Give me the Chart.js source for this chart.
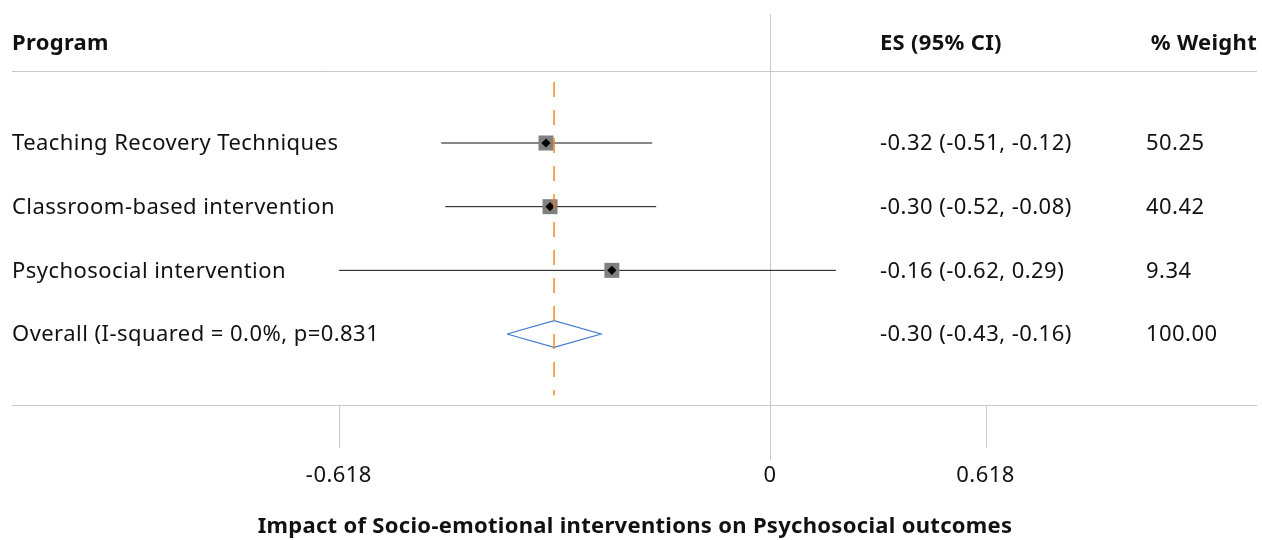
<!DOCTYPE html>
<html>
<head>
<meta charset="utf-8">
<script src="https://cdn.jsdelivr.net/npm/chart.js@4/dist/chart.umd.min.js"></script>
<style>
  html, body { margin: 0; padding: 0; background: #fff; }
  #wrap { width: 1262px; height: 540px; }
</style>
</head>
<body>
<div id="wrap"><canvas id="forest"></canvas></div>
<script>
// table text
let programs = ["Teaching Recovery Techniques", "Classroom-based intervention", "Psychosocial intervention"];
let esText = ["-0.32 (-0.51, -0.12)", "-0.30 (-0.52, -0.08)", "-0.16 (-0.62, 0.29)"];
let weights = ["50.25", "40.42", "9.34"];
let overallLabel = "Overall (I-squared = 0.0%, p=0.831";
let overallText = "-0.30 (-0.43, -0.16)";
let overallWeight = "100.00";

// plotted positions, axis is ln(1 + ES)
let esPlot = [-0.500, -0.491, -0.353];
let loPlot = [-0.734, -0.725, -0.962];
let hiPlot = [-0.263, -0.254, 0.147];
let overallEs = -0.482;
let overallLo = -0.587;
let overallHi = -0.377;

let tickLabels = [-0.618, 0, 0.618];

let font = "'Noto Sans', Lato, sans-serif";
let rows = programs.map((p, i) => i + 1);
let overallRow = programs.length + 1;

let datasets = [];

// orange reference line at overall ES
datasets.push({
    type: "line",
    data: [{x: overallEs, y: 0.04}, {x: overallEs, y: 4.96}],
    borderColor: "#ff7f0e",
    borderWidth: 1.4,
    borderDash: [15, 13],
    pointRadius: 0,
    order: 0
});

datasets.push({
    type: "scatter",
    data: esPlot.map((v, i) => ({x: v, y: rows[i]})),
    pointStyle: "rectRot",
    radius: 4.6,
    backgroundColor: "#000",
    borderWidth: 0,
    order: 1
});

datasets.push({
    type: "scatter",
    data: esPlot.map((v, i) => ({x: v, y: rows[i]})),
    pointStyle: "rect",
    radius: 10.6,
    backgroundColor: "#808080",
    borderWidth: 0,
    order: 2
});

for(let i = 0; i < programs.length; i++) {
    datasets.push({
        type: "line",
        data: [{x: loPlot[i], y: rows[i]}, {x: hiPlot[i], y: rows[i]}],
        borderColor: "#111",
        borderWidth: 1,
        pointRadius: 0,
        order: 5
    });
}

// overall diamond
let h = 0.21;
datasets.push({
    type: "line",
    data: [
        {x: overallLo, y: overallRow},
        {x: overallEs, y: overallRow - h},
        {x: overallHi, y: overallRow},
        {x: overallEs, y: overallRow + h},
        {x: overallLo, y: overallRow}
    ],
    borderColor: "#3f7bd0",
    borderWidth: 1.2,
    pointRadius: 0,
    fill: false,
    tension: 0,
    order: 3
});

let frame = {
    id: "frame",
    beforeDatasetsDraw(chart) {
        let ctx = chart.ctx;
        let xs = chart.scales.x;
        let x0 = Math.round(xs.getPixelForValue(0));
        ctx.save();
        ctx.lineWidth = 1;
        ctx.strokeStyle = "#c8c8c8";
        ctx.beginPath();
        ctx.moveTo(x0 + 0.5, 14);
        ctx.lineTo(x0 + 0.5, 460);
        ctx.moveTo(12, 71.5);
        ctx.lineTo(1257, 71.5);
        ctx.moveTo(12, 405.5);
        ctx.lineTo(1257, 405.5);
        for(let t of tickLabels) {
            if(t == 0) continue;
            let px = Math.round(xs.getPixelForValue(Math.log(1 + t))) + 0.5;
            ctx.moveTo(px, 405);
            ctx.lineTo(px, 448);
        }
        ctx.stroke();
        ctx.restore();
    },
    afterDraw(chart) {
        let ctx = chart.ctx;
        let xs = chart.scales.x;
        let ys = chart.scales.y;
        ctx.save();
        ctx.fillStyle = "#111";
        ctx.textBaseline = "middle";

        ctx.font = "bold 22px " + font;
        ctx.letterSpacing = "0.3px";
        ctx.textAlign = "left";
        ctx.fillText("Program", 12, 44);
        ctx.fillText("ES (95% CI)", 880, 44);
        ctx.textAlign = "right";
        ctx.fillText("% Weight", 1257, 44);

        ctx.font = "22px " + font;
        ctx.letterSpacing = "0.45px";
        ctx.textAlign = "left";
        for(let i = 0; i < programs.length; i++) {
            let y = ys.getPixelForValue(rows[i]) + 1;
            ctx.fillText(programs[i], 12, y);
            ctx.fillText(esText[i], 880, y);
            ctx.fillText(weights[i], 1146, y);
        }
        let yo = ys.getPixelForValue(overallRow) + 1;
        ctx.fillText(overallLabel, 12, yo);
        ctx.fillText(overallText, 880, yo);
        ctx.fillText(overallWeight, 1146, yo);

        ctx.textAlign = "center";
        for(let t of tickLabels) {
            let px = xs.getPixelForValue(Math.log(1 + t));
            ctx.fillText(String(t), px, 476);
        }

        ctx.font = "bold 22px " + font;
        ctx.letterSpacing = "0.3px";
        ctx.fillText("Impact of Socio-emotional interventions on Psychosocial outcomes", 635, 527);
        ctx.restore();
    }
};

new Chart(document.getElementById("forest"), {
    type: "scatter",
    data: {datasets: datasets},
    options: {
        responsive: true,
        maintainAspectRatio: false,
        animation: false,
        layout: {padding: 0, autoPadding: false},
        plugins: {legend: {display: false}, tooltip: {enabled: false}},
        scales: {
            x: {type: "linear", display: false, min: -1.71875, max: 1.09821},
            y: {type: "linear", display: false, reverse: true, min: -1.246, max: 7.235}
        }
    },
    plugins: [frame]
});
</script>
</body>
</html>
